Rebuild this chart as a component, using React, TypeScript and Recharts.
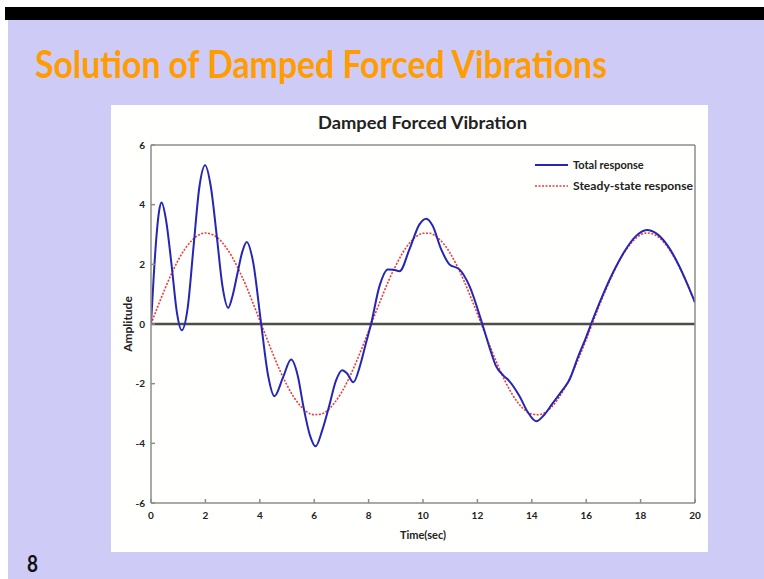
import { LineChart, Line, XAxis, YAxis, ReferenceLine, Legend } from "recharts";

// steady-state response, read every 0.25 s
const timeSteady = [
  0, 0.25, 0.5, 0.75, 1, 1.25, 1.5, 1.75, 2, 2.25, 2.5, 2.75, 3, 3.25, 3.5, 3.75,
  4, 4.25, 4.5, 4.75, 5, 5.25, 5.5, 5.75, 6, 6.25, 6.5, 6.75, 7, 7.25, 7.5, 7.75,
  8, 8.25, 8.5, 8.75, 9, 9.25, 9.5, 9.75, 10, 10.25, 10.5, 10.75, 11, 11.25, 11.5, 11.75,
  12, 12.25, 12.5, 12.75, 13, 13.25, 13.5, 13.75, 14, 14.25, 14.5, 14.75, 15, 15.25, 15.5, 15.75,
  16, 16.25, 16.5, 16.75, 17, 17.25, 17.5, 17.75, 18, 18.25, 18.5, 18.75, 19, 19.25, 19.5, 19.75,
  20,
];
const steadyResp = [
  0, 0.59, 1.15, 1.68, 2.14, 2.52, 2.8, 2.98, 3.05, 3.0, 2.85, 2.58, 2.22, 1.77, 1.27, 0.7,
  0.12, -0.47, -1.04, -1.58, -2.05, -2.45, -2.75, -2.96, -3.04, -3.02, -2.89, -2.64, -2.3, -1.87, -1.37, -0.82,
  -0.24, 0.36, 0.93, 1.48, 1.96, 2.38, 2.71, 2.93, 3.04, 3.04, 2.92, 2.7, 2.37, 1.95, 1.46, 0.91,
  0.34, -0.25, -0.83, -1.38, -1.88, -2.31, -2.65, -2.89, -3.02, -3.04, -2.96, -2.76, -2.46, -2.08, -1.61, -1.09,
  -0.52, 0.07, 0.66, 1.21, 1.72, 2.17, 2.53, 2.81, 2.99, 3.05, 3.0, 2.84, 2.57, 2.21, 1.77, 1.26,
  0.71,
];

// total response, read at peaks, troughs and points between them
const timeTotal = [
  0, 0.1, 0.2, 0.3, 0.39, 0.55, 0.76, 0.95, 1.13, 1.35, 1.56, 1.78, 1.99, 2.2, 2.42, 2.63,
  2.84, 3.0, 3.18, 3.35, 3.52, 3.75, 4.05, 4.3, 4.54, 4.85, 5.15, 5.4, 5.6, 5.85, 6.05, 6.3,
  6.55, 6.8, 7.03, 7.2, 7.44, 7.7, 7.9, 8.09, 8.4, 8.71, 8.92, 9.14, 9.5, 9.87, 10.12, 10.35,
  10.67, 10.97, 11.34, 11.71, 12.18, 12.45, 12.69, 12.95, 13.18, 13.55, 13.85, 14.16, 14.45, 14.77,
  15.1, 15.39, 15.7, 15.95, 16.18, 16.6, 17.0, 17.4, 17.8, 18.23, 18.6, 19.0, 19.4, 19.7, 20,
];
const totalResp = [
  0, 1.6, 2.93, 3.8, 4.07, 3.5, 1.95, 0.4, -0.21, 0.55, 2.55, 4.6, 5.32, 4.6, 2.93, 1.25,
  0.54, 0.95, 1.7, 2.4, 2.75, 2.1, 0, -1.7, -2.42, -1.8, -1.19, -1.75, -2.75, -3.75, -4.1, -3.55,
  -2.75, -1.9, -1.55, -1.65, -1.95, -1.35, -0.65, 0, 1.27, 1.83, 1.82, 1.77, 2.5, 3.34, 3.53, 3.3,
  2.5, 2.0, 1.83, 1.27, 0, -0.8, -1.42, -1.72, -1.92, -2.42, -2.95, -3.26, -3.05, -2.65,
  -2.25, -1.86, -1.1, -0.55, 0, 0.95, 1.75, 2.42, 2.92, 3.15, 3.02, 2.62, 1.98, 1.38, 0.72,
];

const xTicks = [0, 2, 4, 6, 8, 10, 12, 14, 16, 18, 20];
const yTicks = [-6, -4, -2, 0, 2, 4, 6];

const totalData = timeTotal.map((t, i) => ({ t, total: totalResp[i] }));
const steadyData = timeSteady.map((t, i) => ({ t, steady: steadyResp[i] }));

const BLUE = "#2626b4";
const RED = "#ee3a3a";
const AXIS = "#8c8c88";
const FONT = "Lato, 'Open Sans', sans-serif";

const tickStyle = { fontSize: 10, fontWeight: 700, fill: "#222", fontFamily: FONT };

const LegendBox = () => (
  <svg width={170} height={40} style={{ display: "block" }}>
    <line x1={0} y1={8} x2={33} y2={8} stroke={BLUE} strokeWidth={2} />
    <text x={38} y={12} fontSize={11} fontWeight={700} fontFamily={FONT} fill="#222">
      Total response
    </text>
    <line x1={0} y1={29} x2={33} y2={29} stroke={RED} strokeWidth={1.5} strokeDasharray="2 1.5" />
    <text x={38} y={33} fontSize={11} fontWeight={700} fontFamily={FONT} fill="#222" textLength={120} lengthAdjust="spacingAndGlyphs">
      Steady-state response
    </text>
  </svg>
);

export default function App() {
  return (
    <div style={{ position: "fixed", left: 0, top: 0, width: 764, height: 579, background: "#fff", overflow: "hidden" }}>
      <div style={{ position: "absolute", left: 8, top: 20, right: 0, bottom: 0, background: "#cfcbf7" }} />
      <div style={{ position: "absolute", left: 5, top: 7, right: 0, height: 13, background: "#000" }} />

      <div style={{ position: "absolute", left: 111, top: 105, width: 597, height: 447, background: "#fffffd" }}>
        <LineChart width={597} height={447} margin={{ top: 39, right: 12, bottom: 0, left: 0 }}>
          <XAxis
            xAxisId="b"
            dataKey="t"
            type="number"
            domain={[0, 20]}
            ticks={xTicks}
            allowDataOverflow
            height={49}
            stroke={AXIS}
            strokeWidth={1.5}
            tickSize={-4}
            tickMargin={13}
            tick={tickStyle}
            label={({ viewBox }: any) => (
              <text x={viewBox.x + viewBox.width / 2} y={viewBox.y + 36} textAnchor="middle" fontSize={11} fontWeight={700} fontFamily={FONT} fill="#222">
                Time(sec)
              </text>
            )}
          />
          <XAxis
            xAxisId="t"
            orientation="top"
            dataKey="t"
            type="number"
            domain={[0, 20]}
            ticks={xTicks}
            height={1}
            stroke={AXIS}
            strokeWidth={1.5}
            tickSize={-4}
            tick={false}
          />
          <YAxis
            yAxisId="l"
            type="number"
            domain={[-6, 6]}
            ticks={yTicks}
            width={40}
            stroke={AXIS}
            strokeWidth={1.5}
            tickSize={-4}
            tickMargin={10}
            tick={tickStyle}
            label={({ viewBox }: any) => {
              const cx = viewBox.x + 16;
              const cy = viewBox.y + viewBox.height / 2;
              return (
                <text x={cx} y={cy} transform={`rotate(-90 ${cx} ${cy})`} textAnchor="middle" dominantBaseline="central" fontSize={12} fontWeight={700} fontFamily={FONT} fill="#222">
                  Amplitude
                </text>
              );
            }}
          />
          <YAxis
            yAxisId="r"
            orientation="right"
            type="number"
            domain={[-6, 6]}
            ticks={yTicks}
            width={1}
            stroke={AXIS}
            strokeWidth={1.5}
            tickSize={-4}
            tick={false}
          />
          <ReferenceLine xAxisId="b" yAxisId="l" y={0} stroke="#4e4e48" strokeWidth={2.5} />
          <Line
            xAxisId="b"
            yAxisId="l"
            data={steadyData}
            dataKey="steady"
            type="monotone"
            stroke={RED}
            strokeWidth={1.6}
            strokeDasharray="2 1.5"
            dot={false}
            isAnimationActive={false}
          />
          <Line
            xAxisId="b"
            yAxisId="l"
            data={totalData}
            dataKey="total"
            type="monotone"
            stroke={BLUE}
            strokeWidth={2}
            dot={false}
            isAnimationActive={false}
          />
          <Legend
            layout="horizontal"
            verticalAlign="middle"
            align="center"
            content={() => <LegendBox />}
            wrapperStyle={{ position: "absolute", left: 424, top: 52, width: 170, height: 40 }}
          />
        </LineChart>
      </div>

      <svg width={764} height={579} style={{ position: "absolute", left: 0, top: 0, pointerEvents: "none" }}>
        <text x={35} y={78} fontSize={38} fontWeight={700} fontFamily={FONT} fill="#ff9c00" textLength={572} lengthAdjust="spacingAndGlyphs">
          Solution of Damped Forced Vibrations
        </text>
        <text x={318} y={129} fontSize={16.5} fontWeight={700} fontFamily={FONT} fill="#222" textLength={209} lengthAdjust="spacingAndGlyphs">
          Damped Forced Vibration
        </text>
        <text x={27} y={572} fontSize={22} fontWeight={700} fontFamily={FONT} fill="#111" textLength={11} lengthAdjust="spacingAndGlyphs">
          8
        </text>
      </svg>
    </div>
  );
}
